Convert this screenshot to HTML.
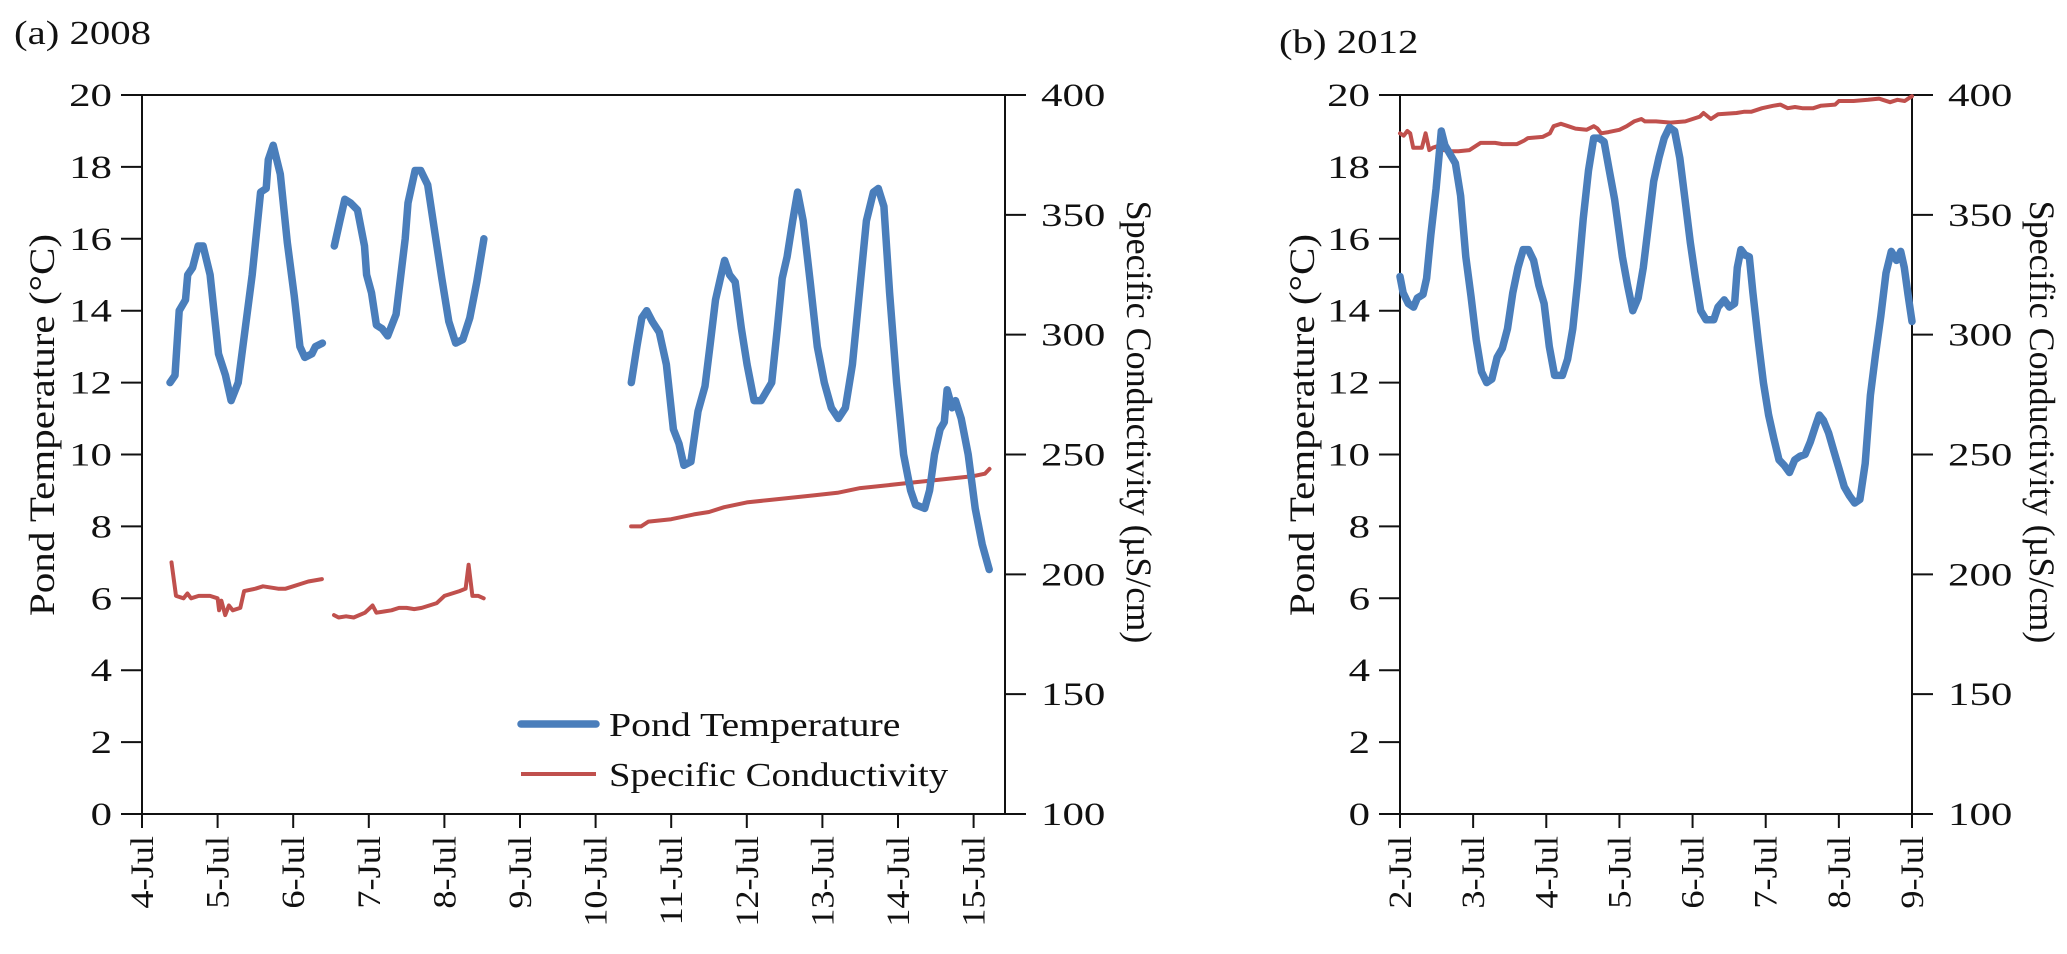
<!DOCTYPE html>
<html><head><meta charset="utf-8"><style>
html,body{margin:0;padding:0;background:#fff;}
svg{display:block;font-family:"Liberation Serif",serif;}
</style></head><body>
<svg id="fig" width="2067" height="954" viewBox="0 0 2067 954" xmlns="http://www.w3.org/2000/svg"></svg>
<script>
// ---------- Panel (a) 2008 data (x = day of July) ----------
const aTempSeg1X=[4.371,4.436,4.492,4.576,4.604,4.669,4.743,4.808,4.901,5.012,5.105,5.179,5.272,5.365,5.458,5.569,5.643,5.671,5.736,5.829,5.922,6.015,6.089,6.154,6.247,6.293,6.386];
const aTempSeg1Y=[12.0,12.2,14.0,14.3,15.0,15.2,15.8,15.8,15.0,12.8,12.2,11.5,12.0,13.5,15.0,17.3,17.4,18.2,18.6,17.8,15.9,14.4,13.0,12.7,12.8,13.0,13.1];
const aTempSeg2X=[6.544,6.618,6.683,6.758,6.851,6.943,6.971,7.036,7.101,7.176,7.250,7.361,7.482,7.519,7.612,7.686,7.779,7.872,7.965,8.058,8.150,8.243,8.336,8.429,8.522];
const aTempSeg2Y=[15.8,16.5,17.1,17.0,16.8,15.8,15.0,14.5,13.6,13.5,13.3,13.9,16.0,17.0,17.9,17.9,17.5,16.2,14.9,13.7,13.1,13.2,13.8,14.8,16.0];
const aTempSeg3X=[10.472,10.546,10.611,10.676,10.750,10.843,10.936,11.029,11.103,11.168,11.261,11.354,11.447,11.512,11.586,11.651,11.707,11.772,11.846,11.929,12.004,12.097,12.189,12.329,12.403,12.468,12.533,12.607,12.672,12.746,12.839,12.932,13.025,13.118,13.211,13.304,13.397,13.490,13.582,13.675,13.740,13.814,13.889,13.981,14.074,14.167,14.232,14.353,14.418,14.483,14.557,14.613,14.650,14.715,14.761,14.836,14.929,15.021,15.114,15.207];
const aTempSeg3Y=[12.0,13.0,13.8,14.0,13.7,13.4,12.5,10.7,10.3,9.7,9.8,11.2,11.9,13.0,14.3,14.9,15.4,15.0,14.8,13.5,12.5,11.5,11.5,12.0,13.5,14.9,15.5,16.5,17.3,16.5,14.8,13.0,12.0,11.3,11.0,11.3,12.5,14.5,16.5,17.3,17.4,16.9,14.5,12.0,10.0,9.0,8.6,8.5,9.0,10.0,10.7,10.9,11.8,11.3,11.5,11.0,10.0,8.5,7.5,6.8];
const aCondSeg1X=[4.39,4.45,4.55,4.60,4.65,4.75,4.90,5.00,5.02,5.05,5.10,5.15,5.20,5.30,5.35,5.50,5.60,5.80,5.90,6.00,6.10,6.20,6.38];
const aCondSeg1Y=[205,191,190,192,190,191,191,190,185,189,183,187,185,186,193,194,195,194,194,195,196,197,198];
const aCondSeg2X=[6.54,6.60,6.70,6.80,6.95,7.05,7.10,7.20,7.30,7.40,7.50,7.60,7.70,7.80,7.90,8.00,8.10,8.20,8.28,8.32,8.37,8.45,8.52];
const aCondSeg2Y=[183,182,182.5,182,184,187,184,184.5,185,186,186,185.5,186,187,188,191,192,193,194,204,191,191,190];
const aCondSeg3X=[10.47,10.60,10.70,11.0,11.3,11.5,11.7,12.0,12.3,12.6,12.9,13.2,13.5,13.8,14.1,14.4,14.7,15.0,15.15,15.21];
const aCondSeg3Y=[220,220,222,223,225,226,228,230,231,232,233,234,236,237,238,239,240,241,242,244];
const aDateLabels=["4-Jul","5-Jul","6-Jul","7-Jul","8-Jul","9-Jul","10-Jul","11-Jul","12-Jul","13-Jul","14-Jul","15-Jul"];
const aDateValues=[4,5,6,7,8,9,10,11,12,13,14,15];

// ---------- Panel (b) 2012 data (x = days since 2-Jul) ----------
const bTempX=[0,.043,.114,.186,.236,.314,.364,.421,.493,.564,.614,.685,.757,.828,.900,.971,1.042,1.114,1.185,1.256,1.328,1.399,1.470,1.542,1.613,1.685,1.756,1.827,1.899,1.970,2.041,2.113,2.220,2.291,2.363,2.434,2.505,2.577,2.648,2.719,2.791,2.862,2.934,3.041,3.112,3.183,3.255,3.326,3.398,3.469,3.540,3.612,3.683,3.754,3.826,3.897,3.969,4.040,4.111,4.183,4.290,4.347,4.433,4.504,4.575,4.611,4.661,4.718,4.775,4.825,4.896,4.968,5.039,5.111,5.182,5.253,5.325,5.396,5.468,5.539,5.610,5.682,5.732,5.789,5.860,5.931,6.003,6.074,6.146,6.217,6.288,6.360,6.431,6.502,6.574,6.645,6.717,6.788,6.845,6.895,6.945,7.0];
const bTempY=[14.95,14.5,14.2,14.1,14.35,14.45,14.9,16.1,17.4,19.0,18.6,18.35,18.1,17.2,15.5,14.4,13.2,12.3,12.0,12.1,12.7,12.95,13.5,14.5,15.2,15.7,15.7,15.4,14.7,14.2,13.0,12.2,12.2,12.65,13.5,14.9,16.55,17.9,18.8,18.8,18.7,17.9,17.1,15.5,14.7,14.0,14.35,15.2,16.4,17.6,18.25,18.8,19.1,19.0,18.25,17.1,15.9,14.9,14.0,13.75,13.75,14.1,14.3,14.1,14.2,15.2,15.7,15.55,15.5,14.5,13.2,12.0,11.1,10.45,9.85,9.7,9.5,9.85,9.95,10.0,10.35,10.8,11.1,10.95,10.6,10.1,9.6,9.1,8.85,8.65,8.75,9.75,11.65,12.8,13.85,15.05,15.65,15.4,15.65,15.2,14.45,13.7];
const bCondX=[0,.05,.1,.14,.18,.3,.35,.4,.45,.55,.6,.7,.8,.95,1.05,1.1,1.3,1.4,1.6,1.7,1.75,1.95,2.05,2.1,2.2,2.3,2.4,2.55,2.65,2.7,2.75,2.85,3.0,3.1,3.2,3.3,3.35,3.5,3.7,3.9,4.0,4.1,4.15,4.25,4.35,4.6,4.7,4.8,4.95,5.1,5.2,5.3,5.4,5.5,5.65,5.75,5.95,6.0,6.2,6.4,6.55,6.6,6.7,6.8,6.9,6.95,7.0];
const bCondY=[384,383,385,384,378,378,384,377,378,379,377,376.5,376.5,377,379,380,380,379.5,379.5,381,382,382.5,384,387,388,387,386,385.5,387,386,384,384.5,385.5,387,389,390,389,389,388.5,389,390,391,392.5,390,392,392.5,393,393,394.5,395.5,396,394.5,395,394.5,394.5,395.5,396,397.5,397.5,398,398.5,398,397,398,397.5,398.5,399.5];
const bDateLabels=["2-Jul","3-Jul","4-Jul","5-Jul","6-Jul","7-Jul","8-Jul","9-Jul"];
const bDateValues=[0,1,2,3,4,5,6,7];

const tempTicks=[0,2,4,6,8,10,12,14,16,18,20];
const condTicks=[100,150,200,250,300,350,400];

const NS="http://www.w3.org/2000/svg";
const svg=document.getElementById('fig');
function mk(tag,attrs,parent){const e=document.createElementNS(NS,tag);for(const k in attrs)e.setAttribute(k,attrs[k]);(parent||svg).appendChild(e);return e;}
function txt(s,attrs,parent,stretch){
  const e=mk('text',attrs,parent);e.textContent=s;
  const f=stretch||1.2;
  try{const w=e.getComputedTextLength();if(w>0){e.setAttribute('textLength',(w*f).toFixed(1));e.setAttribute('lengthAdjust','spacingAndGlyphs');}}catch(err){}
  return e;
}

const TOP=95,BOT=814,BLUE="#4a7ebb",RED="#c0504d";

function panel(p){
  const g=mk('g',{});
  
  
  const xs=v=>p.L+(v-p.x0)/(p.x1-p.x0)*(p.R-p.L);
  const yT=v=>BOT-v/20*(BOT-TOP);
  const yC=v=>BOT-(v-100)/300*(BOT-TOP);
  const t=txt(p.title,{x:p.titleX,y:p.titleY,'font-size':34,fill:'#111'},g,1.2);
  
  
  const ax=mk('path',{d:`M${p.L},${TOP}V${BOT}H${p.R}V${TOP}H${p.L}`,fill:'none',stroke:'#111','stroke-width':2},g);
  
  
  tempTicks.forEach(v=>{
    const y=yT(v);
    mk('line',{x1:p.L-21,x2:p.L,y1:y,y2:y,stroke:'#111','stroke-width':2},g);
    const l=txt(String(v),{x:p.L-30,y:y+11,'text-anchor':'end','font-size':33,fill:'#111'},g,1.3);
    
    
  });
  condTicks.forEach(v=>{
    const y=yC(v);
    mk('line',{x1:p.R,x2:p.R+21,y1:y,y2:y,stroke:'#111','stroke-width':2},g);
    const l=txt(String(v),{x:p.R+36,y:y+11,'font-size':33,fill:'#111'},g,1.3);
    
    
  });
  p.dv.forEach((v,i)=>{
    const x=xs(v);
    mk('line',{x1:x,x2:x,y1:BOT,y2:BOT+14,stroke:'#111','stroke-width':2},g);
    const l=txt(p.dl[i],{x:0,y:0,'text-anchor':'end','font-size':33,fill:'#111',transform:`translate(${x+11},${BOT+22}) rotate(-90)`},g,1.1);
    
    
  });
  const yl=txt('Pond Temperature (°C)',{x:0,y:0,'text-anchor':'middle','font-size':36,fill:'#111',transform:`translate(${p.ylX},${p.ylY}) rotate(-90)`},g,1.14);
  
  
  const yr=txt('Specific Conductivity (µS/cm)',{x:0,y:0,'text-anchor':'middle','font-size':36,fill:'#111',transform:`translate(${p.yrX},${p.yrY}) rotate(90)`},g,1.0);
  
  
  const line=(X,Y,f,col,w,name)=>{
    const d=X.map((v,i)=>(i?'L':'M')+xs(v).toFixed(1)+','+f(Y[i]).toFixed(1)).join('');
    const e=mk('path',{d,fill:'none',stroke:col,'stroke-width':w,'stroke-linejoin':'round','stroke-linecap':'round'},g);
    
    
  };
  p.cond.forEach((s,i)=>line(s[0],s[1],yC,RED,4,'conductivity-line-'+(i+1)));
  p.temp.forEach((s,i)=>line(s[0],s[1],yT,BLUE,7.5,'temperature-line-'+(i+1)));
  return g;
}

panel({id:'a-2008',L:142,R:1005,x0:4,x1:4+(1005-142)/75.6,dv:aDateValues,dl:aDateLabels,title:'(a) 2008',titleX:14,titleY:44,ylX:54,ylY:425,yrX:1127,yrY:422,
  temp:[[aTempSeg1X,aTempSeg1Y],[aTempSeg2X,aTempSeg2Y],[aTempSeg3X,aTempSeg3Y]],
  cond:[[aCondSeg1X,aCondSeg1Y],[aCondSeg2X,aCondSeg2Y],[aCondSeg3X,aCondSeg3Y]]});
panel({id:'b-2012',L:1400,R:1912,x0:0,x1:7,dv:bDateValues,dl:bDateLabels,title:'(b) 2012',titleX:1279,titleY:53,ylX:1314,ylY:425,yrX:2030,yrY:422,
  temp:[[bTempX,bTempY]],cond:[[bCondX,bCondY]]});

// legend (panel a)
const lg=mk('g',{});


const l1=mk('line',{x1:521,x2:596,y1:724,y2:724,stroke:BLUE,'stroke-width':7.5,'stroke-linecap':'round'},lg);


const t1=txt('Pond Temperature',{x:609,y:736,'font-size':34,fill:'#111'},lg,1.17);


const l2=mk('line',{x1:521,x2:596,y1:774,y2:774,stroke:RED,'stroke-width':4},lg);


const t2=txt('Specific Conductivity',{x:609,y:786,'font-size':34,fill:'#111'},lg,1.14);


</script>
</body></html>
